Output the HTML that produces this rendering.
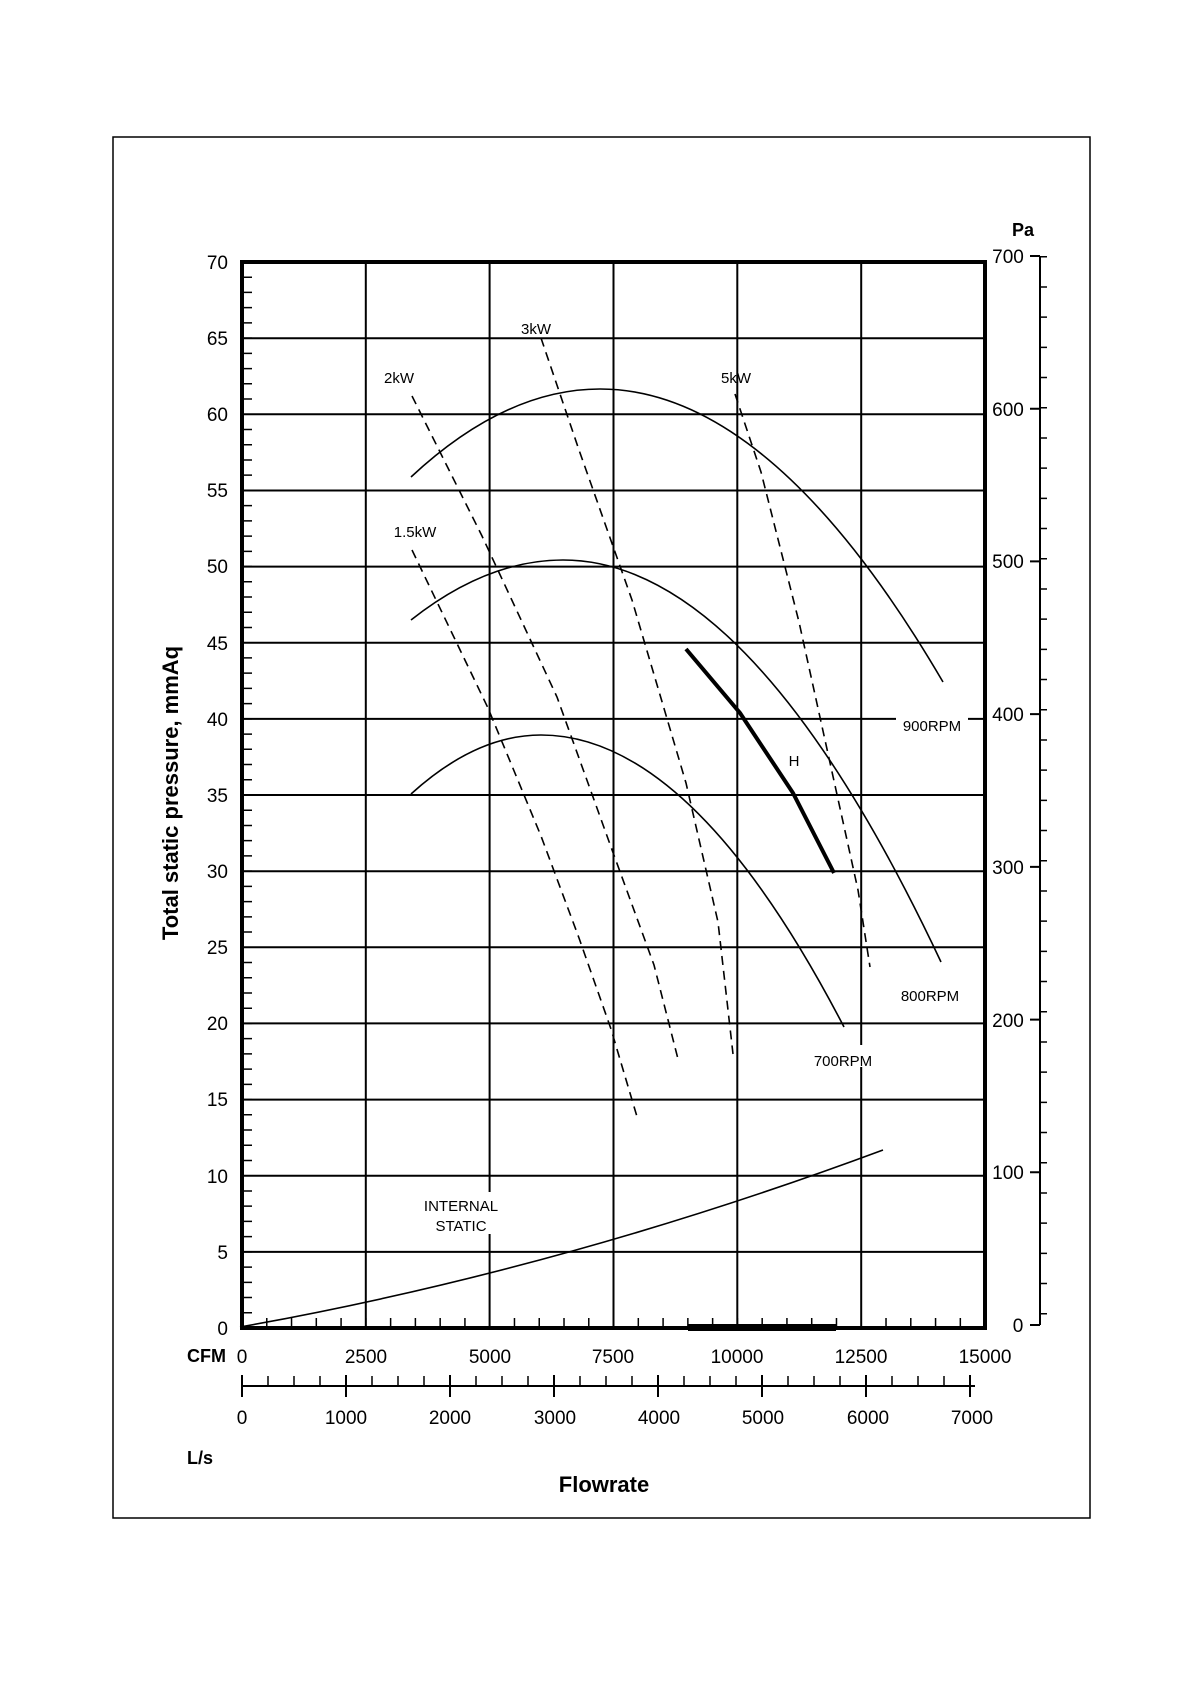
<!DOCTYPE html><html><head><style>body{margin:0;background:#fff}</style></head><body>
<svg width="1190" height="1684" xmlns="http://www.w3.org/2000/svg" font-family="Liberation Sans, sans-serif">
<rect x="113" y="137" width="977" height="1381" fill="none" stroke="#000" stroke-width="1.5"/>
<g stroke="#000" stroke-width="2" fill="none">
<path d="M242 1251.9H985M242 1175.7H985M242 1099.6H985M242 1023.4H985M242 947.3H985M242 871.2H985M242 795H985M242 718.9H985M242 642.7H985M242 566.6H985M242 490.5H985M242 414.3H985M242 338.2H985"/>
<path d="M365.8 262V1328M489.6 262V1328M613.5 262V1328M737.3 262V1328M861.2 262V1328"/>
</g>
<rect x="242" y="262" width="743" height="1066" fill="none" stroke="#000" stroke-width="4"/>
<!-- minor ticks -->
<path d="M248 1328.75V262" stroke="#000" stroke-width="8" stroke-dasharray="1.5,13.729" fill="none"/>
<path d="M241.25 1322H985" stroke="#000" stroke-width="8" stroke-dasharray="1.5,23.27" fill="none"/>
<rect x="688" y="1324" width="148" height="7" fill="#000"/>
<!-- right axis -->
<path d="M1040 256V1325M1030 256h10M1030 408.7h10M1030 561.4h10M1030 714.1h10M1030 866.9h10M1030 1019.6h10M1030 1172.3h10M1030 1325h10" stroke="#000" stroke-width="2"/>
<path d="M1044 256V1325" stroke="#000" stroke-width="6" stroke-dasharray="1.5,28.7" fill="none"/>
<!-- L/s axis -->
<path d="M242 1386H975" stroke="#000" stroke-width="2"/>
<path d="M241.25 1381H975" stroke="#000" stroke-width="10" stroke-dasharray="1.5,24.5" fill="none"/>
<path d="M241 1386H975" stroke="#000" stroke-width="22" stroke-dasharray="2,102" fill="none"/>
<g stroke="#000" fill="none" stroke-width="1.6">
<path d="M411 477Q505.5 389 600 389Q771.5 389 943 682"/>
<path d="M411 620Q487 560 563 560Q752 560 941 962"/>
<path d="M411 794Q476 735 541 735Q692.5 735 844 1027"/>
<path d="M240 1327Q560 1270 883 1150"/>
<path d="M686 649L740 713L793 793L834 873" stroke-width="4"/>
</g>
<g stroke="#000" fill="none" stroke-width="1.6" stroke-dasharray="9,6">
<path d="M412 550L488 708L541 836L579 938L611 1029L638 1120"/>
<path d="M412 396L482 536L557 697L611 847L654 965L678 1059"/>
<path d="M541 338L579 450L632 600L686 783L718 922L733 1054"/>
<path d="M735 394L761 472L799 622L825 740L858 890L870 967"/>
</g>
<g font-size="15" text-anchor="middle">
<rect x="512" y="312" width="48" height="22" fill="#fff"/><text x="536" y="334">3kW</text>
<text x="399" y="383">2kW</text><text x="736" y="383">5kW</text><text x="415" y="537">1.5kW</text>
<rect x="896" y="710" width="72" height="22" fill="#fff"/><text x="932" y="731">900RPM</text>
<text x="794" y="766">H</text><text x="930" y="1001">800RPM</text>
<rect x="807" y="1045" width="72" height="22" fill="#fff"/><text x="843" y="1066">700RPM</text>
<rect x="418" y="1192" width="86" height="42" fill="#fff"/>
<text x="461" y="1211">INTERNAL</text><text x="461" y="1231">STATIC</text>
</g>
<g font-size="19" text-anchor="end">
<text x="228" y="269">70</text><text x="228" y="345">65</text><text x="228" y="421">60</text><text x="228" y="497">55</text><text x="228" y="573">50</text><text x="228" y="650">45</text><text x="228" y="726">40</text><text x="228" y="802">35</text><text x="228" y="878">30</text><text x="228" y="954">25</text><text x="228" y="1030">20</text><text x="228" y="1106">15</text><text x="228" y="1183">10</text><text x="228" y="1259">5</text><text x="228" y="1335">0</text>
</g>
<g font-size="19" text-anchor="middle">
<text x="1008" y="263">700</text><text x="1008" y="416">600</text><text x="1008" y="568">500</text><text x="1008" y="721">400</text><text x="1008" y="874">300</text><text x="1008" y="1027">200</text><text x="1008" y="1179">100</text><text x="1018" y="1332">0</text>
<text x="242" y="1363">0</text><text x="366" y="1363">2500</text><text x="490" y="1363">5000</text><text x="613" y="1363">7500</text><text x="737" y="1363">10000</text><text x="861" y="1363">12500</text><text x="985" y="1363">15000</text>
<text x="242" y="1424">0</text><text x="346" y="1424">1000</text><text x="450" y="1424">2000</text><text x="555" y="1424">3000</text><text x="659" y="1424">4000</text><text x="763" y="1424">5000</text><text x="868" y="1424">6000</text><text x="972" y="1424">7000</text>
</g>
<g font-weight="bold">
<text x="187" y="1362" font-size="18">CFM</text>
<text x="187" y="1464" font-size="18">L/s</text>
<text x="1012" y="236" font-size="18">Pa</text>
<text x="604" y="1492" font-size="22" text-anchor="middle">Flowrate</text>
<text transform="translate(178,793) rotate(-90)" font-size="22" text-anchor="middle">Total static pressure, mmAq</text>
</g>
</svg></body></html>
